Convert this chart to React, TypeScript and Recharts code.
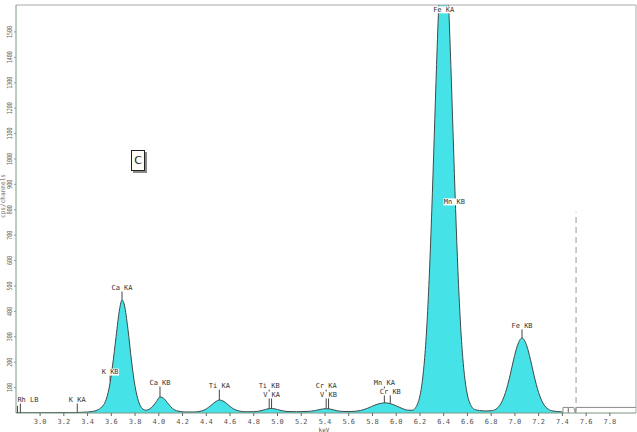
import React from 'react';
import { ComposedChart, Area, Line, Scatter, XAxis, YAxis, ReferenceLine } from 'recharts';

// Spectrum (keV, counts per channel)
const energies = [
  2.80, 3.00, 3.20, 3.30, 3.36, 3.40, 3.44, 3.48, 3.52, 3.55, 3.58, 3.61, 3.64, 3.67, 3.69, 3.71,
  3.74, 3.77, 3.80, 3.83, 3.86, 3.89, 3.92, 3.95, 3.98, 4.01, 4.04, 4.07, 4.10, 4.13, 4.17, 4.22,
  4.30, 4.36, 4.40, 4.44, 4.48, 4.51, 4.55, 4.59, 4.63, 4.67, 4.72, 4.80, 4.86, 4.90, 4.94, 4.98,
  5.02, 5.08, 5.16, 5.25, 5.32, 5.37, 5.41, 5.45, 5.50, 5.56, 5.62, 5.70, 5.76, 5.82, 5.87, 5.91,
  5.95, 6.00, 6.05, 6.10, 6.14, 6.16, 6.18, 6.20, 6.22, 6.24, 6.26, 6.28, 6.30, 6.32, 6.34, 6.36,
  6.38, 6.40, 6.42, 6.44, 6.46, 6.48, 6.50, 6.52, 6.54, 6.56, 6.58, 6.60, 6.62, 6.64, 6.66, 6.70,
  6.76, 6.80, 6.84, 6.88, 6.92, 6.96, 6.99, 7.02, 7.06, 7.10, 7.13, 7.16, 7.20, 7.24, 7.28, 7.32,
  7.38, 7.40,
];
const counts = [
  1, 1, 2, 2, 3, 4, 6, 11, 24, 45, 95, 185, 300, 410, 445, 425,
  330, 205, 105, 45, 18, 11, 15, 27, 45, 63, 58, 42, 25, 13, 7, 4,
  4, 8, 16, 30, 45, 51, 45, 30, 16, 9, 5, 5, 9, 14, 18, 16,
  11, 6, 5, 6, 10, 15, 17, 15, 9, 6, 6, 10, 19, 31, 38, 40,
  37, 28, 18, 11, 11, 19, 36, 68, 125, 219, 359, 555, 801, 1083, 1371, 1622,
  1794, 1855, 1794, 1622, 1371, 1085, 805, 560, 362, 222, 128, 71, 39, 22, 14, 10,
  8, 9, 15, 36, 80, 150, 212, 264, 295, 264, 212, 150, 80, 36, 15, 8,
  5, 4,
];

// Grey trace past the region of interest
const tailEnergies = [7.405, 7.405, 7.45, 7.45, 7.45, 7.495, 7.51, 7.515, 8.02];
const tailCounts = [0, 22, 22, 0, 22, 22, 0, 22, 22];

// Element line markers
const lineNames = ['Rh LB', '', 'K KA', 'K KB', 'Ca KA', 'Ca KB', 'Ti KA', 'Ti KB', 'V KA', 'Cr KA', 'V KB', 'Mn KA', 'Cr KB', 'Fe KA', 'Mn KB', 'Fe KB'];
const lineEnergies = [2.834, 2.81, 3.313, 3.59, 3.69, 4.01, 4.51, 4.93, 4.95, 5.41, 5.43, 5.90, 5.95, 6.40, 6.49, 7.06];
const lineLevels = [51, 40, 51, 161, 492, 118, 106, 106, 71, 106, 71, 118, 83, 1587, 831, 343];

const xTicks = [3.0, 3.2, 3.4, 3.6, 3.8, 4.0, 4.2, 4.4, 4.6, 4.8, 5.0, 5.2, 5.4, 5.6, 5.8, 6.0, 6.2, 6.4, 6.6, 6.8, 7.0, 7.2, 7.4, 7.6, 7.8];
const yTicks = [100, 200, 300, 400, 500, 600, 700, 800, 900, 1000, 1100, 1200, 1300, 1400, 1500];

const X_DOMAIN: [number, number] = [2.797, 8.02];
const Y_DOMAIN: [number, number] = [0, 1606];
const MONO = '"DejaVu Sans Mono", monospace';
const PLOT_HEIGHT = 408;
const PX_PER_COUNT = PLOT_HEIGHT / (Y_DOMAIN[1] - Y_DOMAIN[0]);

// spectrum level under a marker (only used to end the marker's stem)
const spectrumAt = (e: number) => {
  for (let i = 0; i < energies.length - 1; i++) {
    if (e >= energies[i] && e <= energies[i + 1]) {
      const t = (e - energies[i]) / (energies[i + 1] - energies[i]);
      return counts[i] + t * (counts[i + 1] - counts[i]);
    }
  }
  return 0;
};

const XTick = (props: any) => {
  const { x, payload } = props;
  return (
    <text x={x} y={424} textAnchor="middle" fontSize={7} fontFamily={MONO} fill="#555">
      {Number(payload.value).toFixed(1)}
    </text>
  );
};

const YTick = (props: any) => {
  const { y, payload } = props;
  const s = String(payload.value);
  return (
    <text
      x={10}
      y={y}
      transform={`rotate(-90, 10, ${y})`}
      textAnchor="middle"
      dominantBaseline="central"
      fontSize={7}
      fontFamily={MONO}
      fill="#666"
      textLength={s.length * 3}
      lengthAdjust="spacingAndGlyphs"
    >
      {s}
    </text>
  );
};

const MarkerLine = (props: any) => {
  const { cx, cy, payload } = props;
  if (cx == null || cy == null || !payload) return null;
  const gap = payload.v - payload.floor;
  if (gap <= 0) return null;
  const y2 = cy + gap * PX_PER_COUNT;
  if (y2 - (cy + 3) < 1) return null;
  return <line x1={cx} x2={cx} y1={cy + 3} y2={y2} stroke="#444" strokeWidth={1} />;
};

const MarkerLabel = (props: any) => {
  const { cx, cy, payload } = props;
  if (cx == null || cy == null || !payload || !payload.name) return null;
  const name: string = payload.name;
  const w = name.length * 4.2 + 1;
  const start = name === 'Rh LB';
  const tx = start ? cx - 3 : cx;
  const rx = start ? tx - 0.5 : tx - w / 2;
  return (
    <g>
      <rect x={rx} y={cy - 3.5} width={w} height={7} fill="#ffffff" />
      <text
        x={tx}
        y={cy}
        textAnchor={start ? 'start' : 'middle'}
        dominantBaseline="central"
        fontSize={7}
        fontFamily={MONO}
        fill="#333"
      >
        {name}
      </text>
    </g>
  );
};

export default function App() {
  const spectrum = energies.map((e, i) => ({ e, v: counts[i] }));
  const tail = tailEnergies.map((e, i) => ({ e, v: tailCounts[i] }));
  const markers = lineNames.map((name, i) => ({
    e: lineEnergies[i],
    v: lineLevels[i],
    name,
    floor: spectrumAt(lineEnergies[i]),
  }));

  return (
    <div style={{ position: 'absolute', left: 0, top: 0, width: 637, height: 432, background: '#ffffff' }}>
      <ComposedChart width={637} height={432} margin={{ top: 5, right: 1, left: 0, bottom: 0 }}>
        <XAxis
          type="number"
          dataKey="e"
          domain={X_DOMAIN}
          allowDataOverflow
          ticks={xTicks}
          interval={0}
          height={19}
          tickSize={3}
          tick={(p: any) => <XTick {...p} />}
          tickLine={{ stroke: '#666' }}
          axisLine={{ stroke: '#7f967f' }}
        />
        <YAxis
          type="number"
          dataKey="v"
          domain={Y_DOMAIN}
          allowDataOverflow
          ticks={yTicks}
          interval={0}
          width={16}
          tickSize={2}
          tick={(p: any) => <YTick {...p} />}
          tickLine={{ stroke: '#999' }}
          axisLine={{ stroke: '#7f967f' }}
        />
        <ReferenceLine y={Y_DOMAIN[1]} stroke="#aaaaaa" />
        <ReferenceLine x={X_DOMAIN[1]} stroke="#aaaaaa" />
        <Area
          data={spectrum}
          dataKey="v"
          type="monotone"
          fill="#45e3e8"
          fillOpacity={1}
          stroke="#3d4a4a"
          strokeWidth={1}
          dot={false}
          activeDot={false}
          isAnimationActive={false}
        />
        <Line data={tail} dataKey="v" type="linear" stroke="#8a8a8a" strokeWidth={1} dot={false} activeDot={false} isAnimationActive={false} />
        <ReferenceLine segment={[{ x: 7.515, y: 0 }, { x: 7.515, y: 790 }]} stroke="#9a9a9a" strokeDasharray="6 4" />
        <Scatter data={markers} dataKey="v" shape={MarkerLine} isAnimationActive={false} />
        <Scatter data={markers} dataKey="v" shape={MarkerLabel} isAnimationActive={false} />
      </ComposedChart>
      <svg width={637} height={432} style={{ position: 'absolute', left: 0, top: 0, pointerEvents: 'none' }}>
        <text
          x={3}
          y={196}
          transform="rotate(-90, 3, 196)"
          textAnchor="middle"
          dominantBaseline="central"
          fontSize={6.5}
          fontFamily={MONO}
          fill="#777"
          textLength={44}
          lengthAdjust="spacingAndGlyphs"
        >
          cps/channels
        </text>
        <text x={324} y={431.5} textAnchor="middle" fontSize={6} fontFamily={MONO} fill="#555">
          keV
        </text>
      </svg>
      <div
        style={{
          position: 'absolute',
          left: 131,
          top: 150,
          width: 12,
          height: 19,
          border: '1px solid #222',
          background: '#fffff8',
          boxShadow: '2px 2px 0 #8a8a8a',
          fontFamily: '"DejaVu Sans", sans-serif',
          fontSize: 11,
          lineHeight: '19px',
          textAlign: 'center',
          color: '#222',
        }}
      >
        C
      </div>
    </div>
  );
}
